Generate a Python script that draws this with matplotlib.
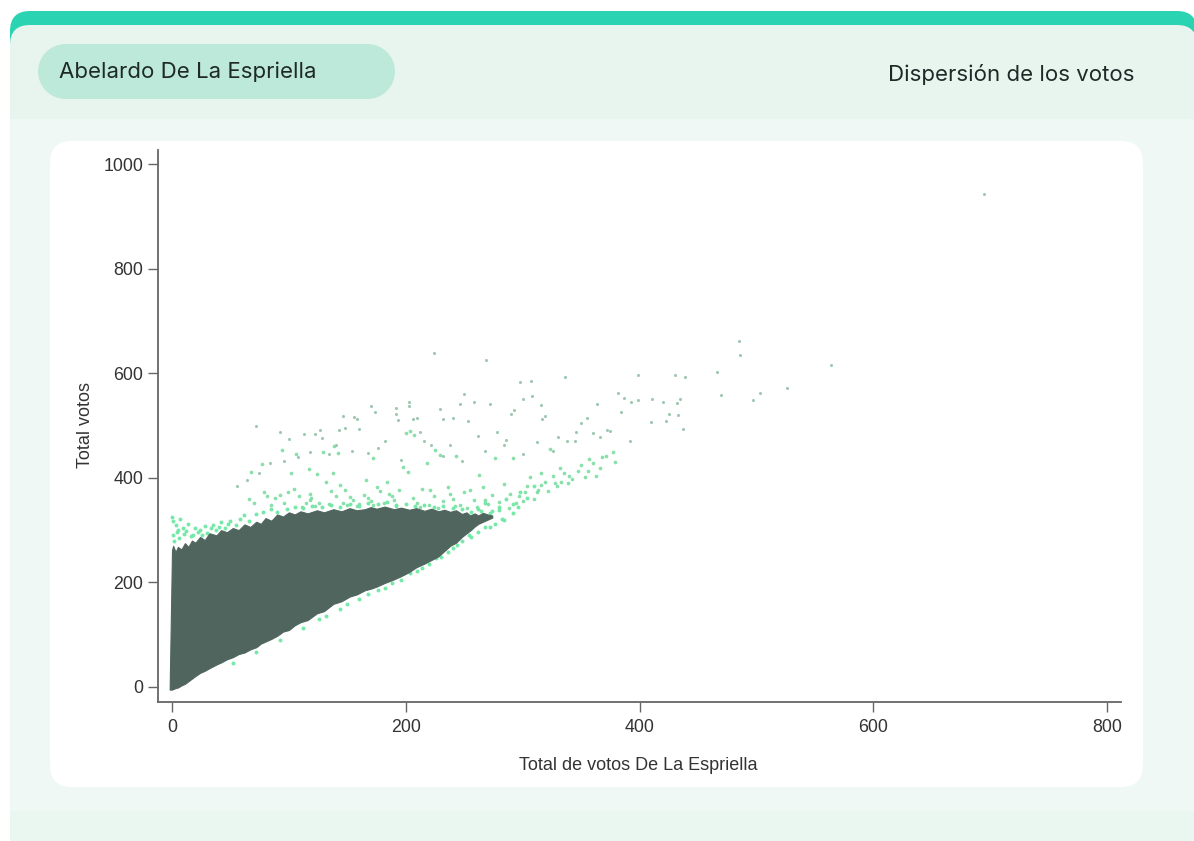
import matplotlib
matplotlib.use("Agg")
import matplotlib.pyplot as plt
from matplotlib.patches import FancyBboxPatch, Rectangle, Circle

# --- data ---
mass_x = [-2, 0, 1, 3, 5, 8, 11, 14, 17, 20, 24, 28, 32, 38, 42, 47, 52, 57, 62, 67, 72, 76, 80, 85, 90, 95, 100, 105, 110,
          116, 124, 130, 138, 145, 152, 158, 165, 170, 175, 182, 190, 196, 203, 209, 216, 222, 228, 233, 238, 243, 248, 252,
          255, 259, 262, 266, 270, 274]
mass_low = [-5, -5, -4, -2, -1, 3, 6, 11, 16, 21, 27, 31, 36, 43, 47, 53, 57, 63, 66, 72, 76, 83, 87, 92, 98, 106, 109, 118, 124,
            128, 141, 145, 159, 164, 173, 177, 185, 188, 192, 199, 206, 212, 220, 229, 236, 243, 250, 260, 270, 276, 287, 294,
            299, 307, 312, 316, 320, 324]
mass_high = [0, 262, 270, 258, 268, 263, 275, 268, 280, 276, 287, 281, 294, 290, 300, 296, 304, 300, 311, 306, 316, 312, 323, 318, 330, 326, 334, 330, 336,
             332, 338, 334, 340, 336, 342, 338, 340, 344, 341, 345, 340, 343, 339, 342, 337, 341, 336, 339, 335, 338, 331, 334,
             328, 332, 328, 333, 330, 328]

far_x = [695, 485, 486, 564, 526, 503, 497, 470, 466, 430, 439, 399, 382, 387, 393, 399, 411, 420, 432, 435,
         384, 425, 433, 410, 423, 437, 375, 392, 224, 269, 336, 298, 307, 250, 308, 300, 316, 364, 203, 203,
         258, 246, 272, 170, 174, 192, 229, 293, 290, 146, 156, 158, 192, 193, 206, 210, 232, 240, 253, 319,
         317, 355, 72, 148, 143, 160, 92, 127, 113, 122, 128, 100, 330, 345, 350, 372, 360, 278, 286, 262,
         216, 222, 182, 176, 154, 140, 134, 118, 108, 96, 84, 74, 64, 56, 212, 238, 268, 284, 300, 312,
         326, 338, 346, 366, 248, 232, 196, 168]
far_y = [942, 662, 634, 616, 572, 562, 548, 558, 602, 597, 593, 597, 563, 553, 545, 549, 551, 545, 544, 551,
         526, 523, 520, 507, 509, 493, 490, 471, 639, 625, 592, 583, 586, 560, 557, 550, 540, 542, 546, 537,
         545, 541, 541, 537, 525, 534, 531, 530, 523, 518, 517, 512, 523, 511, 512, 514, 512, 514, 509, 518,
         512, 515, 500, 495, 491, 494, 488, 491, 483, 483, 476, 474, 478, 470, 505, 492, 486, 488, 472, 480,
         470, 462, 470, 458, 452, 462, 446, 450, 440, 432, 428, 410, 395, 385, 488, 462, 452, 462, 446, 468,
         452, 470, 488, 478, 432, 442, 434, 448]

clump_x = [94, 106, 129, 139, 142, 172, 68, 77, 102, 117, 124, 138, 132, 144, 148, 92, 109, 118, 118, 152,
           164, 166, 175, 184, 186, 198, 202, 218, 225, 229, 243, 221, 238, 255, 263, 289, 302, 306, 316, 316,
           332, 333, 339, 350, 360, 363, 377, 323, 292, 276, 200, 204, 207, 66, 70, 79, 81, 104, 115, 119,
           122, 126, 136, 140, 146, 150, 155, 160, 168, 170, 178, 181, 188, 190, 194, 206, 210, 214, 220, 224,
           232, 236, 240, 246, 250, 258, 261, 266, 270, 274, 280, 284, 294, 297, 304, 310, 313, 319, 322, 326,
           329, 335, 342, 347, 353, 357, 366, 371, 379, 85, 88, 96, 99, 111, 134, 158, 172, 192, 212, 228,
           242, 252, 268, 288, 300, 312, 328, 340, 356, 368]
clump_y = [454, 446, 449, 460, 447, 437, 412, 426, 409, 416, 407, 409, 393, 386, 377, 367, 366, 370, 358, 364,
           367, 396, 383, 393, 370, 421, 412, 428, 453, 444, 442, 377, 370, 377, 405, 370, 372, 402, 409, 386,
           418, 393, 390, 425, 428, 404, 450, 456, 437, 437, 485, 490, 482, 360, 352, 372, 366, 378, 352, 362,
           346, 352, 374, 366, 352, 348, 358, 350, 362, 356, 374, 352, 366, 358, 376, 362, 352, 378, 348, 366,
           356, 382, 360, 348, 372, 358, 345, 382, 350, 368, 354, 388, 352, 366, 384, 360, 376, 392, 374, 404,
           384, 410, 398, 414, 402, 436, 418, 442, 430, 348, 362, 352, 372, 345, 350, 346, 348, 347, 345, 343,
           346, 342, 358, 342, 356, 372, 390, 404, 414, 440]

fringe_x = [0, 1, 3, 5, 7, 9, 12, 14, 18, 20, 24, 28, 30, 35, 38, 42, 45, 50, 55, 58, 62, 66, 72, 78, 85,
            90, 98, 105, 112, 120, 128, 136, 144, 152, 160, 168, 176, 184, 192, 200, 208, 216, 224, 232, 240, 248, 256, 264, 272, 280,
            262, 268, 274, 280, 286, 292, 298, 304, 310,
            240, 248, 254, 262, 268, 276, 284, 230, 220, 210, 196, 182, 168, 150, 132, 112, 92, 72, 52, 1, 2, 4, 6, 10, 16, 22, 26, 33, 40, 48,
            244, 236, 226, 214, 204, 188, 176, 160, 144, 126, 256, 272, 292, 282, 296]
fringe_y = [325, 318, 310, 300, 322, 305, 298, 312, 290, 305, 300, 308, 295, 310, 300, 315, 305, 318, 310, 322, 328, 318, 330, 335, 340,
            335, 340, 344, 342, 346, 344, 348, 345, 350, 346, 351, 350, 353, 349, 350, 346, 348, 344, 346, 342, 340, 335, 336, 332, 338,
            340, 352, 336, 345, 360, 350, 372, 362, 385,
            266, 280, 290, 296, 306, 312, 320, 248, 236, 222, 205, 190, 178, 158, 136, 112, 90, 66, 46, 290, 280, 296, 284, 292, 288, 296, 290, 304, 306, 312,
            272, 258, 246, 228, 218, 199, 186, 168, 150, 130, 286, 306, 332, 322, 344]

x_ticks = [0, 200, 400, 600, 800]
y_ticks = [0, 200, 400, 600, 800, 1000]
x_title = "Total de votos De La Espriella"
y_title = "Total votos"
pill_text = "Abelardo De La Espriella"
right_text = "Dispersión de los votos"

W, H = 1194, 841
fig = plt.figure(figsize=(W / 100, H / 100), dpi=100, facecolor="white")

# page furniture in pixel coordinates
bg = fig.add_axes([0, 0, 1, 1], zorder=0)
bg.set_xlim(0, W)
bg.set_ylim(H, 0)
bg.axis("off")


def rbox(x0, y0, x1, y1, r, color):
    bg.add_patch(FancyBboxPatch((x0 + r, y0 + r), x1 - x0 - 2 * r, y1 - y0 - 2 * r,
                                boxstyle=f"round,pad={r},rounding_size={r}",
                                fc=color, ec="none", mutation_aspect=1))


rbox(10, 11, 1197, 120, 20, "#2AD4B2")
rbox(10, 25, 1197, 200, 20, "#E8F5EF")
bg.add_patch(Rectangle((10, 119), W - 10, H - 119, fc="#EFF8F4", ec="none"))
bg.add_patch(Rectangle((10, 811), W - 10, H - 811, fc="#EAF6F0", ec="none"))
rbox(50, 141, 1143, 787, 22, "#FFFFFF")
# pill
bg.add_patch(Rectangle((65.5, 44), 302, 55, fc="#BDE9DA", ec="none"))
bg.add_patch(Circle((65.5, 71.5), 27.5, fc="#BDE9DA", ec="none"))
bg.add_patch(Circle((367.5, 71.5), 27.5, fc="#BDE9DA", ec="none"))
bg.text(59, 72, pill_text, fontsize=16, family="Inter", color="#1F2A28", va="center", ha="left")
bg.text(1134, 74, right_text, fontsize=16, family="Inter", color="#1F2A28", va="center", ha="right")

# plot area: spines at px x=158, y=702; ends at px x=1121, y=150
ax = fig.add_axes([158 / W, 1 - 702 / H, (1121 - 158) / W, (702 - 150) / H], zorder=1)
ax.patch.set_alpha(0)
ax.set_xlim(-12, 812)
ax.set_ylim(-28.7, 1027)

ax.scatter(far_x, far_y, s=5, color="#8FBFA3", alpha=0.85, linewidths=0)
ax.scatter(clump_x, clump_y, s=7, color="#74DB9C", alpha=0.85, linewidths=0)
ax.scatter(fringe_x, fringe_y, s=8, color="#6FE8A5", alpha=0.95, linewidths=0)
ax.fill_between(mass_x, mass_low, mass_high, color="#4F655E", linewidth=0.8, zorder=3)

for s in ("top", "right"):
    ax.spines[s].set_visible(False)
for s in ("left", "bottom"):
    ax.spines[s].set_color("#666666")
    ax.spines[s].set_linewidth(1.3)
ax.set_xticks(x_ticks)
ax.set_yticks(y_ticks)
ax.tick_params(length=7, width=1, color="#666666", labelcolor="#333333", labelsize=12.8, pad=3.5)
for lab in ax.get_xticklabels() + ax.get_yticklabels():
    lab.set_family("Liberation Sans")
ax.tick_params(axis="x", pad=5)
ax.set_xlabel(x_title, fontsize=13, family="Liberation Sans", color="#333333", labelpad=15)
ax.xaxis.label.set_x((638 - 158) / (1121 - 158))
ax.set_ylabel(y_title, fontsize=13, family="Liberation Sans", color="#333333", labelpad=7)
ax.yaxis.label.set_y((702 - 425) / (702 - 150))

fig.savefig("out.png", dpi=100)
